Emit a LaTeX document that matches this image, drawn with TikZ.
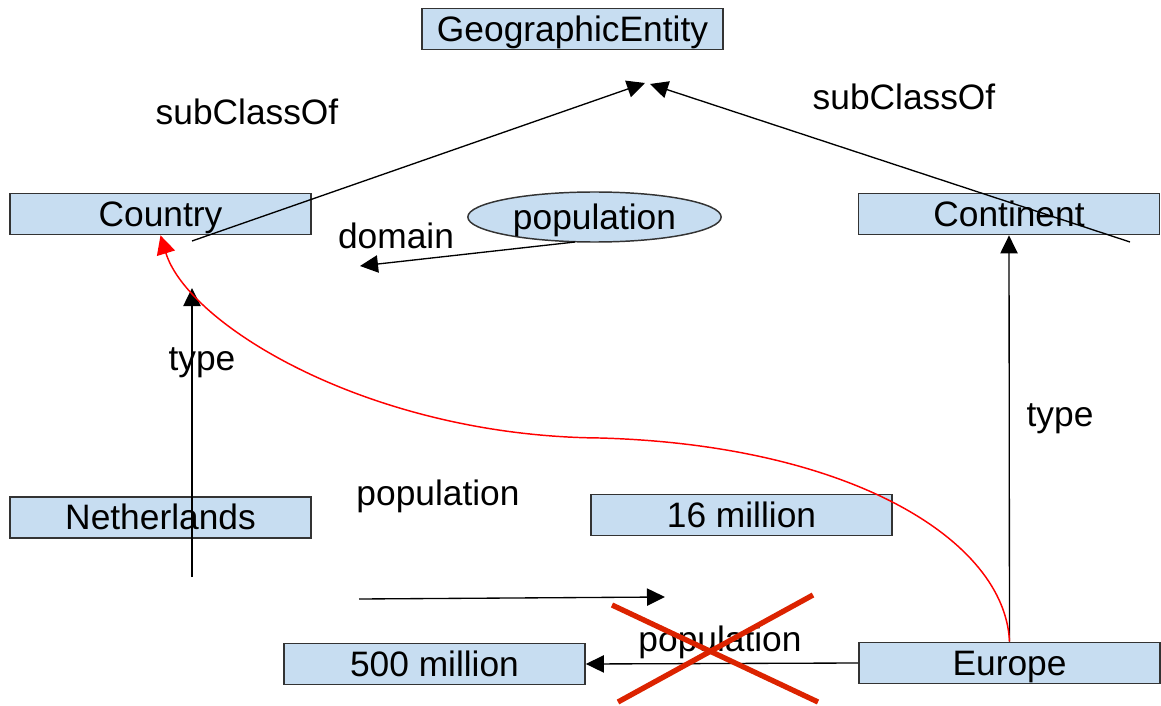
\documentclass[tikz,border=0pt]{standalone}
\usepackage{fontspec}
\setmainfont{Liberation Sans}
\usetikzlibrary{arrows.meta,shapes.geometric}
\definecolor{boxfill}{RGB}{199,221,241}
\definecolor{crossred}{RGB}{220,35,0}
\tikzset{
    cls/.style={draw=black!80,line width=1.1pt,fill=boxfill,minimum width=226pt,minimum height=31pt,inner sep=0pt,text height=18.5pt,text depth=0pt,font=\fontsize{26.5}{30}\selectfont},
    lbl/.style={font=\fontsize{26.5}{30}\selectfont,inner sep=0pt,text height=18.5pt,text depth=0pt},
    rel/.style={line width=1pt,-{Triangle[length=13.5pt,width=13pt]}}
}
\begin{document}
\begin{tikzpicture}[x=0.75pt,y=-0.75pt]
            \useasboundingbox (0,0) rectangle (1161,706);
            \node[cls] (geo) at (572.5,29) {GeographicEntity};
            \node[cls] (country) at (160.5,214) {Country};
            \node[cls] (continent) at (1009,214) {Continent};
            \node[cls] (nl) at (160.5,517.5) {Netherlands};
            \node[cls] (sixteen) at (741.5,515) {16 million};
            \node[cls] (fivehundred) at (434.5,664) {500 million};
            \node[cls] (europe) at (1009.5,663) {Europe};
            \node[draw=black!80,line width=1.1pt,fill=boxfill,ellipse,minimum width=190pt,minimum height=37.5pt,inner sep=0pt,text height=18.5pt,text depth=0pt,font=\fontsize{26.5}{30}\selectfont] (pop) at (594.5,217) {population};

            \node[lbl] (subl) at (247,112) {subClassOf};
            \node[lbl] (subr) at (904,97) {subClassOf};
            \node[lbl] (dom) at (396,236) {domain};
            \node[lbl] (typel) at (202,358) {type};
            \node[lbl] (typer) at (1060,414) {type};
            \node[lbl] (popl) at (438,493) {population};
            \node[lbl] (popb) at (720,639) {population};

            \coordinate (sl0) at (192,241);
            \coordinate (sl1) at (645,83);
            \coordinate (sr0) at (1130,242);
            \coordinate (sr1) at (650,84);
            \coordinate (d1) at (360,266);
            \coordinate (t0) at (192,577);
            \coordinate (t1) at (192,288);
            \coordinate (p0) at (359,599);
            \coordinate (p1) at (665,597);

            \draw[rel] (sl0) -- (sl1);
            \draw[rel] (sr0) -- (sr1);
            \draw[rel] (575,242) -- (d1);
            \draw[rel] (t0) -- (t1);
            \draw[rel] (p0) -- (p1);
            \draw[rel] (europe.north) -- (continent.south);
            \draw[rel] (europe.west) -- (fivehundred.east);

            \draw[red,line width=1.1pt,-{Triangle[length=14pt,width=14pt]}] (europe.north) .. controls (1005,540) and (850,445) .. (600,438) .. controls (370,436) and (188,325) .. (country.south);

            \draw[crossred,line width=4pt] (612,605) -- (818,702);
            \draw[crossred,line width=4pt] (618,702) -- (813,595);
        \end{tikzpicture}
\end{document}
